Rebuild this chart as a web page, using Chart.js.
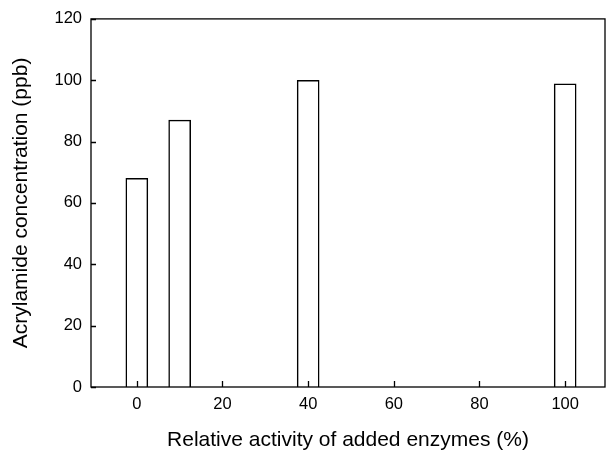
<!DOCTYPE html>
<html>
<head>
<meta charset="utf-8">
<script src="https://cdn.jsdelivr.net/npm/chart.js@4/dist/chart.umd.min.js"></script>
<style>
  html, body { margin: 0; padding: 0; background: #fff; }
  #wrap { width: 606px; height: 453px; }
</style>
</head>
<body>
<div id="wrap"><canvas id="chart" width="606" height="453"></canvas></div>
<script>
// data
const activity = [0, 10, 40, 100];          // relative activity of added enzymes (%)
const acrylamide = [68, 87, 100, 98.8];     // acrylamide concentration (ppb)
const xTicks = [0, 20, 40, 60, 80, 100];
const yTicks = [0, 20, 40, 60, 80, 100, 120];

const font = 'Liberation Sans, Arial, Helvetica, sans-serif';

// frame + inward ticks, like the original plot
const framePlugin = {
    id: 'frame',
    afterDatasetsDraw(chart) {
        const { ctx, chartArea: a, scales } = chart;
        ctx.save();
        ctx.strokeStyle = '#000';
        ctx.lineWidth = 1.3;
        ctx.strokeRect(a.left, a.top, a.right - a.left, a.bottom - a.top);
        ctx.beginPath();
        xTicks.forEach(v => {
            const px = Math.round(scales.x.getPixelForValue(v)) + 0.5;
            ctx.moveTo(px, a.bottom);
            ctx.lineTo(px, a.bottom - 6);
        });
        yTicks.forEach(v => {
            const py = Math.round(scales.y.getPixelForValue(v)) + 0.5;
            ctx.moveTo(a.left, py);
            ctx.lineTo(a.left + 5, py);
        });
        ctx.stroke();
        ctx.restore();
    }
};

new Chart(document.getElementById('chart').getContext('2d'), {
    type: 'bar',
    data: {
        datasets: [{
            data: activity.map((x, i) => ({ x: x, y: acrylamide[i] })),
            backgroundColor: '#ffffff',
            borderColor: '#000000',
            borderWidth: 1.5,
            barThickness: 22
        }]
    },
    options: {
        responsive: false,
        animation: false,
        layout: { padding: { left: 0, top: 17, right: 1, bottom: 0 } },
        plugins: {
            legend: { display: false },
            tooltip: { enabled: false }
        },
        scales: {
            x: {
                type: 'linear',
                offset: false,
                min: -10.7,
                max: 109.3,
                afterBuildTicks(scale) {
                    scale.ticks = xTicks.map(v => ({ value: v }));
                },
                afterFit(scale) { scale.height = 66; },
                grid: { display: false, drawTicks: false },
                border: { display: false },
                ticks: {
                    color: '#000',
                    padding: 8,
                    maxRotation: 0,
                    font: { family: font, size: 16.5 }
                },
                title: {
                    display: true,
                    text: 'Relative activity of added enzymes (%)',
                    color: '#000',
                    padding: { top: 4, bottom: 0 },
                    font: { family: font, size: 21 }
                }
            },
            y: {
                min: 0,
                max: 120,
                afterBuildTicks(scale) {
                    scale.ticks = yTicks.map(v => ({ value: v }));
                },
                afterFit(scale) { scale.width = 91; },
                grid: { display: false, drawTicks: false },
                border: { display: false },
                ticks: {
                    color: '#000',
                    padding: 9,
                    font: { family: font, size: 16.5 }
                },
                title: {
                    display: true,
                    text: 'Acrylamide concentration (ppb)',
                    color: '#000',
                    padding: { top: 9, bottom: 0 },
                    font: { family: font, size: 21 }
                }
            }
        }
    },
    plugins: [framePlugin]
});
</script>
</body>
</html>
